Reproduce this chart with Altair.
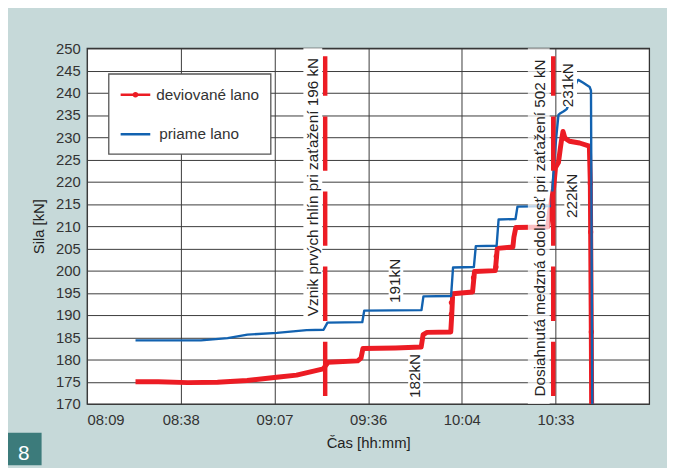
import altair as alt
import pandas as pd

# ---- data (time in minutes after midnight, force in kN) ----
BLUE_T = [504.5, 524.6, 532.8, 538.9, 548.0, 557.1, 562.3, 563.5, 574.2, 574.8,
          592.4, 593.0, 601.5, 602.1, 608.5, 609.1, 615.5, 616.1, 621.3, 621.9,
          632.4, 632.7, 633.0, 633.8, 634.5, 635.1, 636.0, 636.8, 637.1, 639.9,
          640.3, 640.6, 642.0, 644.1, 644.5, 644.9]
BLUE_V = [184.3, 184.3, 184.8, 185.6, 186.0, 186.6, 186.7, 188.3, 188.4, 191.0,
          191.1, 194.2, 194.3, 200.7, 200.8, 205.5, 205.6, 211.5, 211.6, 214.4,
          214.5, 219.1, 222.4, 229.8, 235.0, 235.4, 235.8, 236.2, 236.4, 242.0,
          242.7, 242.9, 242.3, 241.3, 240.5, 170.0]

RED_T = [504.5, 511.5, 520.6, 529.7, 538.8, 547.9, 554.0, 558.6, 562.2, 563.7,
         572.8, 573.8, 574.4, 584.4, 592.3, 592.9, 594.1, 601.4, 601.7, 602.0,
         608.1, 608.4, 608.7, 615.1, 615.4, 615.7, 620.5, 620.8, 621.4, 631.2,
         631.8, 632.4, 633.0, 633.6, 634.5, 635.1, 635.4, 635.9, 636.5, 637.9,
         641.0, 644.0, 644.3, 644.4, 644.6, 644.7]
RED_V = [175.0, 175.0, 174.8, 174.9, 175.3, 176.0, 176.5, 177.3, 177.9, 179.4,
         179.7, 180.3, 182.5, 182.6, 182.8, 185.6, 186.1, 186.2, 190.0, 194.8,
         195.2, 197.5, 199.8, 200.0, 202.5, 205.0, 205.3, 207.5, 209.7, 209.8,
         213.2, 216.0, 218.5, 223.2, 224.3, 227.6, 229.1, 231.3, 229.8, 229.1,
         228.7, 228.0, 219.6, 208.7, 186.2, 170.0]

RED_DOT_T = [601.6, 601.6, 608.4, 615.4, 615.3, 632.0, 644.3, 644.4, 644.6]
RED_DOT_V = [192.8, 190.2, 198.4, 203.2, 200.8, 213.2, 219.6, 208.7, 186.2]

X_TICKS = [489.6, 518.4, 547.2, 576.0, 604.8, 633.6]
X_DOMAIN = [489.6, 662.4]
Y_TICKS = list(range(170, 251, 5))
Y_DOMAIN = [170, 250]

EVENT_T = [562.8, 632.9]
EVENT_V1 = [171.8, 171.8]
EVENT_V2 = [248.2, 248.2]

ANN_TEXT = ["Vznik prvých rhlín pri zaťažení 196 kN",
            "Dosiahnutá medzná odolnosť  pri zaťažení 502 kN",
            "191kN", "182kN", "222kN", "231kN"]
ANN_T = [559.2, 628.7, 584.4, 590.5, 638.8, 637.5]
ANN_V = [218.8, 209.6, 197.7, 176.3, 216.8, 241.7]

BOX_T1 = [556.1, 625.1, 582.3, 588.3, 636.3, 635.4]
BOX_T2 = [561.9, 631.8, 586.8, 592.9, 641.2, 640.2]
BOX_V1 = [250.0, 250.0, 202.0, 181.8, 222.4, 246.9]
BOX_V2 = [188.9, 170.0, 193.1, 170.7, 211.1, 236.8]
BOX_OP = [1.0, 0.72, 1.0, 1.0, 1.0, 1.0]

LEGEND_LABELS = ["deviované lano", "priame lano"]

RED = "#ec1c24"
BLUE = "#1262b0"
BG = "#c6d9d9"
FONT = "Liberation Sans"

# ---- shared scales / axes ----
XS = alt.Scale(domain=X_DOMAIN, nice=False, zero=False)
YS = alt.Scale(domain=Y_DOMAIN, nice=False, zero=False)
label_expr = ("(floor(datum.value/60) < 10 ? '0' : '') + floor(datum.value/60) + ':' + "
              "(floor(datum.value % 60) < 10 ? '0' : '') + floor(datum.value % 60)")
AX_X = alt.Axis(values=X_TICKS, labelExpr=label_expr, title="Čas [hh:mm]",
                labelOverlap=False, labelPadding=9, titlePadding=8)
AX_Y = alt.Axis(values=Y_TICKS, title="Sila [kN]", labelPadding=7, titlePadding=9,
                labelOverlap=False)


def X(f):
    return alt.X(f"{f}:Q", scale=XS, axis=AX_X)


def Y(f):
    return alt.Y(f"{f}:Q", scale=YS, axis=AX_Y)


blue_df = pd.DataFrame({"t": BLUE_T, "v": BLUE_V, "i": range(len(BLUE_T))})
red_df = pd.DataFrame({"t": RED_T, "v": RED_V, "i": range(len(RED_T))})
dot_df = pd.DataFrame({"t": RED_DOT_T, "v": RED_DOT_V})
ev_df = pd.DataFrame({"t": EVENT_T, "v1": EVENT_V1, "v2": EVENT_V2})
ann_df = pd.DataFrame({"t": ANN_T, "v": ANN_V, "txt": ANN_TEXT})
box_df = pd.DataFrame({"t1": BOX_T1, "t2": BOX_T2, "v1": BOX_V1, "v2": BOX_V2, "op": BOX_OP})

red_line = alt.Chart(red_df).mark_line(color=RED, strokeWidth=5, strokeJoin="round").encode(
    x=X("t"), y=Y("v"), order="i:Q")
red_dots = alt.Chart(dot_df).mark_circle(color=RED, size=28, opacity=1).encode(
    x=X("t"), y=Y("v"))
blue_line = alt.Chart(blue_df).mark_line(color=BLUE, strokeWidth=2.4, strokeJoin="round").encode(
    x=X("t"), y=Y("v"), order="i:Q")

boxes = alt.Chart(box_df).mark_rect(fill="white").encode(
    x=X("t1"), x2="t2", y=Y("v1"), y2="v2",
    opacity=alt.Opacity("op:Q", scale=None, legend=None))

events = alt.Chart(ev_df).mark_rule(color=RED, strokeWidth=4.5, strokeDash=[55, 21]).encode(
    x=X("t"), y=Y("v1"), y2="v2")

ann = alt.Chart(ann_df).mark_text(angle=270, align="center", baseline="middle",
                                  fontSize=15.5, font=FONT, color="#222").encode(
    x=X("t"), y=Y("v"), text="txt:N")

one = pd.DataFrame({"k": [0]})
leg_box = alt.Chart(one).mark_rect(fill="white", stroke="#555", strokeWidth=1.3).encode(
    x=alt.value(22), x2=alt.value(186), y=alt.value(26), y2=alt.value(107))
leg_red = alt.Chart(one).mark_rule(color=RED, strokeWidth=2.5).encode(
    x=alt.value(34), x2=alt.value(64), y=alt.value(47))
leg_red_dot = alt.Chart(one).mark_circle(color=RED, size=30, opacity=1).encode(
    x=alt.value(49), y=alt.value(47))
leg_blue = alt.Chart(one).mark_rule(color=BLUE, strokeWidth=2.5).encode(
    x=alt.value(34), x2=alt.value(64), y=alt.value(87))
leg_t1 = alt.Chart(one).mark_text(align="left", baseline="middle", fontSize=15.5, font=FONT,
                                  color="#333").encode(
    x=alt.value(70), y=alt.value(47), text=alt.value(LEGEND_LABELS[0]))
leg_t2 = alt.Chart(one).mark_text(align="left", baseline="middle", fontSize=15.5, font=FONT,
                                  color="#333").encode(
    x=alt.value(73), y=alt.value(87), text=alt.value(LEGEND_LABELS[1]))

fig_box = alt.Chart(one).mark_rect(fill="#3c7b7b").encode(
    x=alt.value(-80), x2=alt.value(-46), y=alt.value(389), y2=alt.value(422))
fig_num = alt.Chart(one).mark_text(fontSize=21, font=FONT, color="white",
                                   align="center", baseline="middle").encode(
    x=alt.value(-64), y=alt.value(411), text=alt.value("8"))

chart = alt.layer(
    red_line, red_dots, blue_line, boxes, events, ann,
    leg_box, leg_red, leg_red_dot, leg_blue, leg_t1, leg_t2, fig_box, fig_num
).properties(
    width=569, height=360,
    autosize=alt.AutoSizeParams(type="none"),
    padding={"left": 80, "top": 38, "right": 18, "bottom": 62},
    background=BG,
).configure_view(
    fill="white", stroke="#333", strokeWidth=1.3
).configure_axis(
    labelFont=FONT, titleFont=FONT, labelFontSize=15, titleFontSize=15,
    labelColor="#333", titleColor="#222", titleFontWeight="normal",
    tickSize=0, domain=False, grid=True, gridColor="#3a3a3a", gridWidth=1,
    gridOpacity=1,
)

chart.save("out.html", embed_options={"renderer": "svg", "actions": False})
